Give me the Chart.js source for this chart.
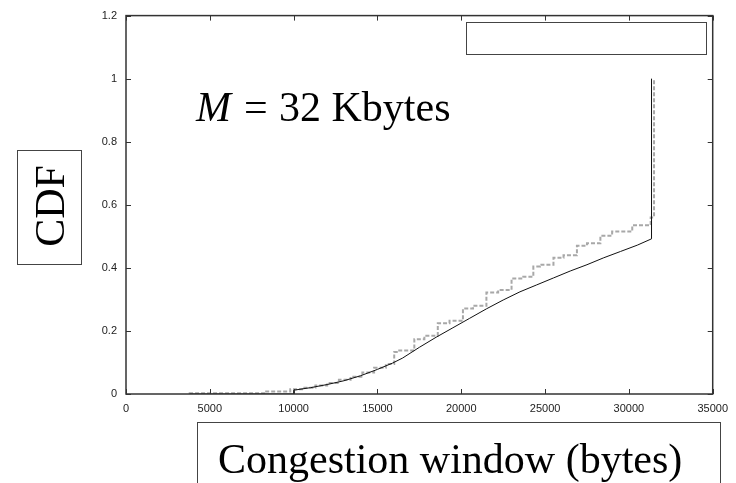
<!DOCTYPE html>
<html>
<head>
<meta charset="utf-8">
<script src="https://cdn.jsdelivr.net/npm/chart.js@4"></script>
<style>
  html, body { margin: 0; padding: 0; background: #fff; }
  #wrap { width: 736px; height: 483px; }
</style>
</head>
<body>
<div id="wrap"><canvas id="cdf"></canvas></div>
<script>
// Model curve (solid)
const modelX = [3800, 10000, 10000, 11000, 12000, 13000, 14000, 15000, 15900, 16500, 17500, 18500, 19500, 20500, 21500, 22500, 23500, 24500, 25500, 26500, 27500, 28500, 29500, 30500, 31350, 31350];
const modelY = [0, 0, 0.012, 0.02, 0.03, 0.042, 0.058, 0.078, 0.098, 0.114, 0.148, 0.18, 0.21, 0.24, 0.27, 0.298, 0.324, 0.346, 0.368, 0.39, 0.41, 0.432, 0.452, 0.472, 0.492, 1.0];

// Simulation curve (grey dashed staircase)
const simX = [3800, 8300, 9800, 10500, 11300, 12000, 12700, 13400, 14100, 14800, 15500, 16000, 16300, 17200, 17800, 18600, 19300, 20100, 20700, 21500, 22200, 23000, 23700, 24300, 24700, 25500, 26100, 26900, 27500, 28300, 29000, 30200, 31300, 31500, 31500];
const simY = [0, 0.002, 0.008, 0.015, 0.02, 0.027, 0.035, 0.045, 0.055, 0.068, 0.083, 0.095, 0.133, 0.138, 0.174, 0.185, 0.224, 0.232, 0.271, 0.28, 0.322, 0.33, 0.366, 0.372, 0.404, 0.41, 0.432, 0.44, 0.47, 0.478, 0.502, 0.515, 0.535, 0.56, 1.0];

const xTicks = [0, 5000, 10000, 15000, 20000, 25000, 30000, 35000];
const yTicks = [0, 0.2, 0.4, 0.6, 0.8, 1, 1.2];

const pts = (xs, ys) => xs.map((x, i) => ({ x: x, y: ys[i] }));
const serif = '"Liberation Serif", "DejaVu Serif", serif';

// frame, inward ticks and the text boxes
const decor = {
  id: 'decor',
  afterDraw(chart) {
    const ctx = chart.ctx;
    const a = chart.chartArea;
    const xs = chart.scales.x, ys = chart.scales.y;
    ctx.save();
    ctx.strokeStyle = '#333';
    ctx.lineWidth = 1.5;
    ctx.strokeRect(a.left, a.top, a.right - a.left, a.bottom - a.top);
    ctx.lineWidth = 1;
    ctx.beginPath();
    xTicks.forEach(v => {
      const p = Math.round(xs.getPixelForValue(v)) + 0.5;
      ctx.moveTo(p, a.bottom); ctx.lineTo(p, a.bottom - 5);
      ctx.moveTo(p, a.top); ctx.lineTo(p, a.top + 5);
    });
    yTicks.forEach(v => {
      const p = Math.round(ys.getPixelForValue(v)) + 0.5;
      ctx.moveTo(a.left, p); ctx.lineTo(a.left + 5, p);
      ctx.moveTo(a.right, p); ctx.lineTo(a.right - 5, p);
    });
    ctx.stroke();

    // legend box (empty)
    ctx.fillStyle = '#fff';
    ctx.fillRect(466, 22, 240, 32);
    ctx.strokeStyle = '#444';
    ctx.strokeRect(466.5, 22.5, 240, 32);

    // M = 32 Kbytes
    ctx.fillStyle = '#000';
    ctx.textBaseline = 'alphabetic';
    ctx.textAlign = 'left';
    ctx.font = 'italic 42px ' + serif;
    ctx.fillText('M', 196, 121);
    const mw = ctx.measureText('M').width;
    ctx.font = '42px ' + serif;
    ctx.fillText('=', 196 + mw + 13, 121);
    ctx.fillText('32 Kbytes', 196 + mw + 48, 121);

    // CDF box
    ctx.strokeRect(17.5, 150.5, 64, 114);
    ctx.save();
    ctx.translate(64, 206);
    ctx.rotate(-Math.PI / 2);
    ctx.textAlign = 'center';
    ctx.fillText('CDF', 0, 0);
    ctx.restore();

    // x label box
    ctx.strokeRect(197.5, 422.5, 523, 80);
    ctx.font = '42px ' + serif;
    ctx.fillText('Congestion window (bytes)', 218, 473);
    ctx.restore();
  }
};

new Chart(document.getElementById('cdf'), {
  type: 'line',
  data: {
    datasets: [
      {
        label: 'simulation',
        data: pts(simX, simY),
        borderColor: '#a8a8a8',
        borderWidth: 2,
        borderDash: [4, 2],
        stepped: 'after',
        pointRadius: 0,
        fill: false,
        order: 2
      },
      {
        label: 'model',
        data: pts(modelX, modelY),
        borderColor: '#111',
        borderWidth: 1,
        tension: 0,
        pointRadius: 0,
        fill: false,
        order: 1
      }
    ]
  },
  options: {
    responsive: true,
    maintainAspectRatio: false,
    animation: false,
    layout: { padding: { left: 0, top: 14, right: 23, bottom: 0 } },
    plugins: { legend: { display: false }, tooltip: { enabled: false } },
    scales: {
      x: {
        type: 'linear',
        min: 0, max: 35000,
        grid: { display: false, drawTicks: false },
        border: { display: false },
        afterBuildTicks: s => { s.ticks = xTicks.map(v => ({ value: v })); },
        afterFit: s => { s.height = 89; },
        ticks: {
          padding: 8,
          maxRotation: 0,
          color: '#222',
          font: { family: '"Liberation Sans", Arial, sans-serif', size: 11 },
          callback: v => String(v)
        }
      },
      y: {
        min: 0, max: 1.2,
        grid: { display: false, drawTicks: false },
        border: { display: false },
        afterBuildTicks: s => { s.ticks = yTicks.map(v => ({ value: v })); },
        afterFit: s => { s.width = 126; },
        ticks: {
          padding: 9,
          color: '#222',
          font: { family: '"Liberation Sans", Arial, sans-serif', size: 11 },
          callback: v => String(Number(v.toFixed(1)))
        }
      }
    }
  },
  plugins: [decor]
});
</script>
</body>
</html>
